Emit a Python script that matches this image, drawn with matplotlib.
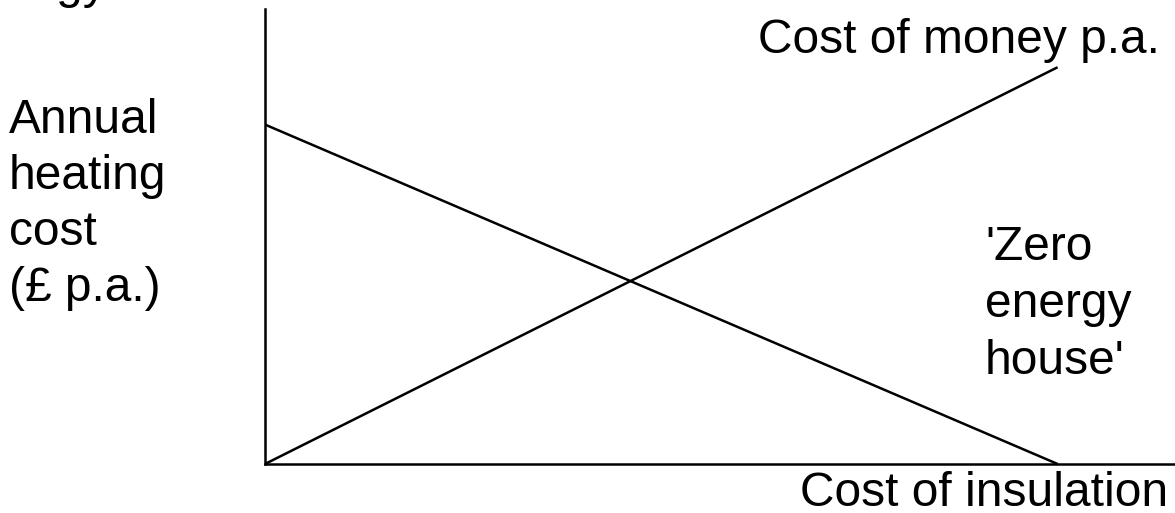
import matplotlib.pyplot as plt

plt.rcParams['font.family'] = ['Liberation Sans', 'DejaVu Sans']

# data (arbitrary units, axis 0..100)
insulation = [0, 87.1]
money_cost = [0, 87.2]
heating_cost = [74.6, 0]

fig = plt.figure(figsize=(11.75, 5.13), dpi=100)
W, H = 1175, 513

ax = fig.add_axes([265 / W, (H - 464) / H, (W - 265) / W, (464 - 9) / H])
ax.plot(insulation, money_cost, color='black', lw=1.8, solid_capstyle='butt')
ax.plot(insulation, heating_cost, color='black', lw=1.8, solid_capstyle='butt')
ax.set_xlim(0, 100)
ax.set_ylim(0, 100)
ax.set_xticks([])
ax.set_yticks([])
for s in ['top', 'right']:
    ax.spines[s].set_visible(False)
for s in ['left', 'bottom']:
    ax.spines[s].set_linewidth(1.8)
    ax.spines[s].set_color('black')
ax.patch.set_alpha(0)

fs = 34.5


def px_text(x, y, s, ha='left'):
    # x, y in pixels from top-left, y is the baseline
    fig.text(x / W, 1 - y / H, s, fontsize=fs, ha=ha, va='baseline')


px_text(-45, -2, 'Energy')
px_text(1160, 53, 'Cost of money p.a.', ha='right')
for i, line in enumerate(['Annual', 'heating', 'cost', '(\u00a3 p.a.)']):
    px_text(9, 133 + i * 56, line)
for i, line in enumerate(["'Zero", 'energy', "house'"]):
    px_text(985, 260 + i * 57, line)
px_text(1168, 506, 'Cost of insulation', ha='right')

fig.savefig('out.png', dpi=100)
